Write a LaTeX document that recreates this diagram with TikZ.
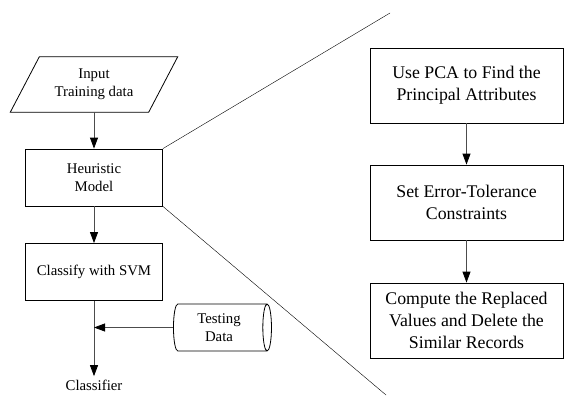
\documentclass[tikz,border=0pt]{standalone}
\usepackage{fontspec}
\setmainfont{Liberation Serif}
\usetikzlibrary{positioning,shapes.geometric,arrows.meta}

\begin{document}
\begin{tikzpicture}[
        x=1pt, y=1pt,
        node distance=93pt,
        font=\fontsize{14.8}{18}\selectfont,
        process/.style={rectangle, draw, line width=0.8pt, minimum width=137pt, minimum height=57pt, align=center},
        datain/.style={rectangle, minimum width=138pt, minimum height=55pt, align=center},
        store/.style={cylinder, draw, line width=0.8pt, shape aspect=0.25, minimum width=47pt, minimum height=98pt, align=center},
        stage/.style={rectangle, draw, line width=0.8pt, minimum width=193pt, minimum height=75pt, align=center, font=\fontsize{17.8}{22}\selectfont},
        arrow/.style={-{Triangle[length=11pt, width=8pt, black]}, line width=0.8pt, draw=black!70},
        zoomline/.style={line width=0.4pt}
    ]
    \useasboundingbox (0,0) rectangle (565,-396);

% Left column
        \node[datain] (input) at (94,-84.5) {Input\\Training data};
        \draw[line width=0.8pt] ([xshift=14.5pt]input.north west) -- ([xshift=14.5pt]input.north east)
            -- ([xshift=-14.5pt]input.south east) -- ([xshift=-14.5pt]input.south west) -- cycle;
        \node[process, below of=input] (heur) {Heuristic\\Model};
        \node[process, below of=heur, yshift=-1.5pt] (svm) {Classify with SVM};
        \node[below of=svm, yshift=-20pt] (classifier) {Classifier};
        \node[store] (testing) at (219,-327.5) {Testing\\Data};
        \coordinate (join) at (svm |- testing);

% Right column
        \node[stage] (pca) at (466.5,-85.5) {Use PCA to Find the\\Principal Attributes};
        \node[stage, below of=pca, yshift=-24pt] (tol) {Set Error-Tolerance\\Constraints};
        \node[stage, below of=tol, yshift=-25pt] (recs) {Compute the Replaced\\Values and Delete the\\Similar Records};

% Zoom lines
        \coordinate (ztop) at (390,-13);
        \coordinate (zbot) at (386,-395);
        \draw[zoomline] (heur.north east) -- (ztop);
        \draw[zoomline] (heur.south east) -- (zbot);

% Arrows
        \draw[arrow] (input) -- (heur);
        \draw[arrow] (heur) -- (svm);
        \draw[arrow] (svm) -- (classifier);
        \draw[arrow] (testing) -- (join);
        \draw[arrow] (pca) -- (tol);
        \draw[arrow] (tol) -- (recs);
    \end{tikzpicture}
\end{document}
